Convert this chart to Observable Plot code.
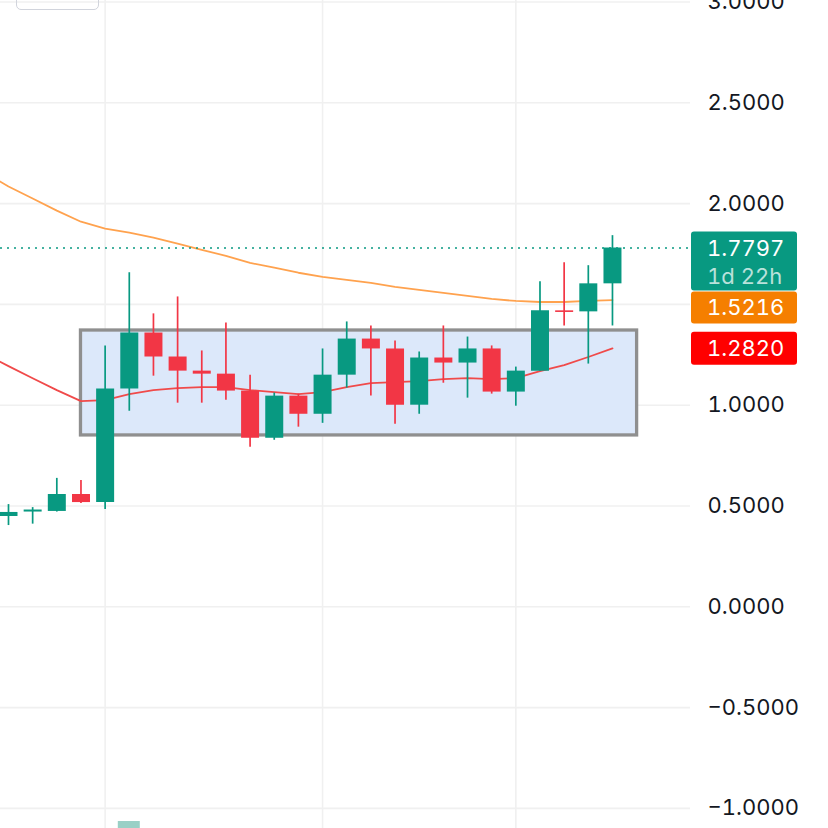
<!DOCTYPE html>
<html><head><meta charset="utf-8">
<script src="https://cdn.jsdelivr.net/npm/d3@7"></script>
<script src="https://cdn.jsdelivr.net/npm/@observablehq/plot@0.6"></script>
<style>
html,body{margin:0;padding:0;background:#fff;overflow:hidden}
#wrap{position:relative;width:828px;height:828px;overflow:hidden;background:#fff}
#wrap svg text{font-variant-numeric:tabular-nums;font-feature-settings:"tnum" 1}
#btn{position:absolute;left:16px;top:-12px;width:83px;height:22px;border:1.5px solid #d1d4dc;border-radius:5px;box-sizing:border-box;z-index:2}
</style></head><body><div id="wrap"><div id="btn"></div></div>
<script>
// Candles (daily), index 0..25
const opens  = [0.448,0.470,0.473,0.557,0.517,1.080,1.358,1.239,1.169,1.154,1.070,0.836,1.045,0.955,1.149,1.328,1.279,1.000,1.234,1.209,1.279,1.065,1.169,1.468,1.463,1.602];
const closes = [0.468,0.480,0.557,0.517,1.080,1.358,1.239,1.169,1.154,1.070,0.836,1.045,0.955,1.149,1.328,1.279,1.000,1.234,1.209,1.279,1.065,1.169,1.468,1.460,1.602,1.7797];
const highs  = [0.507,0.492,0.637,0.627,1.294,1.657,1.453,1.537,1.269,1.408,1.149,1.060,1.055,1.279,1.413,1.393,1.318,1.264,1.393,1.338,1.294,1.189,1.612,1.706,1.692,1.841];
const lows   = [0.403,0.410,0.470,0.512,0.483,0.970,1.144,1.010,1.010,1.025,0.791,0.826,0.891,0.910,1.085,1.045,0.905,0.955,1.109,1.035,1.055,0.995,1.169,1.393,1.204,1.393];

// Moving averages, index -1..25
const maIndex = [-1,0,1,2,3,4,5,6,7,8,9,10,11,12,13,14,15,16,17,18,19,20,21,22,23,24,25];
const maFast = [1.254,1.194,1.134,1.075,1.020,1.025,1.055,1.075,1.085,1.090,1.090,1.075,1.065,1.055,1.065,1.090,1.109,1.114,1.119,1.129,1.134,1.129,1.134,1.169,1.199,1.239,1.282];
const maSlow = [2.154,2.085,2.025,1.965,1.910,1.876,1.856,1.831,1.801,1.771,1.741,1.706,1.682,1.657,1.637,1.622,1.607,1.587,1.572,1.557,1.542,1.527,1.517,1.512,1.512,1.517,1.5216];

// Range box
const zoneStart = 3, zoneEnd = 26.02, zoneTop = 1.3705, zoneBottom = 0.850;

// Volume pane (only one bar reaches into view)
const volIndex = [5];
const volTop = [-1.065];

const yGrid = [-1,-0.5,0,0.5,1,1.5,2,2.5,3];
const yLabels = [-1,-0.5,0,0.5,1,2,2.5,3]; // 1.5000 is hidden behind the price tags
const xGridTicks = [4,13,21];

const lastPrice = 1.7797, lastSlow = 1.5216, lastFast = 1.2820;
const countdown = "1d 22h";

const UP = "#089981", DOWN = "#f23645";
const candles = opens.map((o,i)=>({i, open:o, close:closes[i], high:highs[i], low:lows[i], col: closes[i]>=o ? UP : DOWN}));
const fast = maIndex.map((i,k)=>({i, v:maFast[k]}));
const slow = maIndex.map((i,k)=>({i, v:maSlow[k]}));
const vols = volIndex.map((i,k)=>({i, top:volTop[k]}));
const fmt = v => (v<0?"\u2212":"") + Math.abs(v).toFixed(4);

const plot = Plot.plot({
  width:828, height:828, marginLeft:0, marginRight:138, marginTop:0, marginBottom:0,
  style:{fontFamily:"Inter, sans-serif", fontSize:"22px", color:"#131722", background:"#fff", overflow:"visible"},
  x:{type:"linear", domain:[-0.331, 28.23], axis:null},
  y:{domain:[-1.0997, 3.0074], axis:null},
  marks:[
    Plot.gridY(yGrid, {stroke:"#f0f0f0", strokeOpacity:1, strokeWidth:1.6}),
    Plot.gridX(xGridTicks, {stroke:"#f0f0f0", strokeOpacity:1, strokeWidth:1.6}),
    Plot.axisY(yLabels, {anchor:"right", tickSize:0, tickPadding:17, tickFormat:fmt, fontSize:22, fill:"#131722"}),
    Plot.rect(vols, {x1:d=>d.i-0.455, x2:d=>d.i+0.455, y1:-1.3, y2:"top", fill:"#9ad0c6", clip:true}),
    Plot.rect([{}], {x1:zoneStart, x2:zoneEnd, y1:zoneBottom, y2:zoneTop, fill:"#dce8fa", stroke:"#8f8f8f", strokeWidth:3.3}),
    Plot.line(slow, {x:"i", y:"v", stroke:"#ffa24e", strokeWidth:1.8, clip:true}),
    Plot.line(fast, {x:"i", y:"v", stroke:"#f04a4a", strokeWidth:1.8, clip:true}),
    Plot.ruleY([lastPrice], {stroke:UP, strokeDasharray:"2,5", strokeWidth:1.6}),
    Plot.ruleX(candles, {x:"i", y1:"low", y2:"high", stroke:"col", strokeWidth:1.7}),
    Plot.ruleX(candles, {x:"i", y1:"open", y2:"close", stroke:"col", strokeWidth:18})
  ]
});
document.getElementById("wrap").appendChild(plot);

const y = plot.scale("y");
const g = d3.select(plot).append("g").attr("font-family","Inter, sans-serif").attr("font-size",22).attr("text-anchor","start");
const yp = y.apply(lastPrice);
g.append("rect").attr("x",691).attr("y",yp-16).attr("width",106).attr("height",59).attr("rx",3).attr("fill",UP);
g.append("text").attr("x",707).attr("y",yp+1).attr("dy","0.35em").attr("fill","#fff").text(fmt(lastPrice));
g.append("text").attr("x",707).attr("y",yp+29).attr("dy","0.35em").attr("fill","#fff").attr("fill-opacity",0.72).text(countdown);
const yo = yp+44;
g.append("rect").attr("x",691).attr("y",yo).attr("width",106).attr("height",32).attr("rx",3).attr("fill","#f57f00");
g.append("text").attr("x",707).attr("y",yo+16).attr("dy","0.35em").attr("fill","#fff").text(fmt(lastSlow));
const yr = y.apply(lastFast);
g.append("rect").attr("x",691).attr("y",yr-16).attr("width",106).attr("height",33).attr("rx",3).attr("fill","#ff0000");
g.append("text").attr("x",707).attr("y",yr).attr("dy","0.35em").attr("fill","#fff").text(fmt(lastFast));
</script>
</body></html>
